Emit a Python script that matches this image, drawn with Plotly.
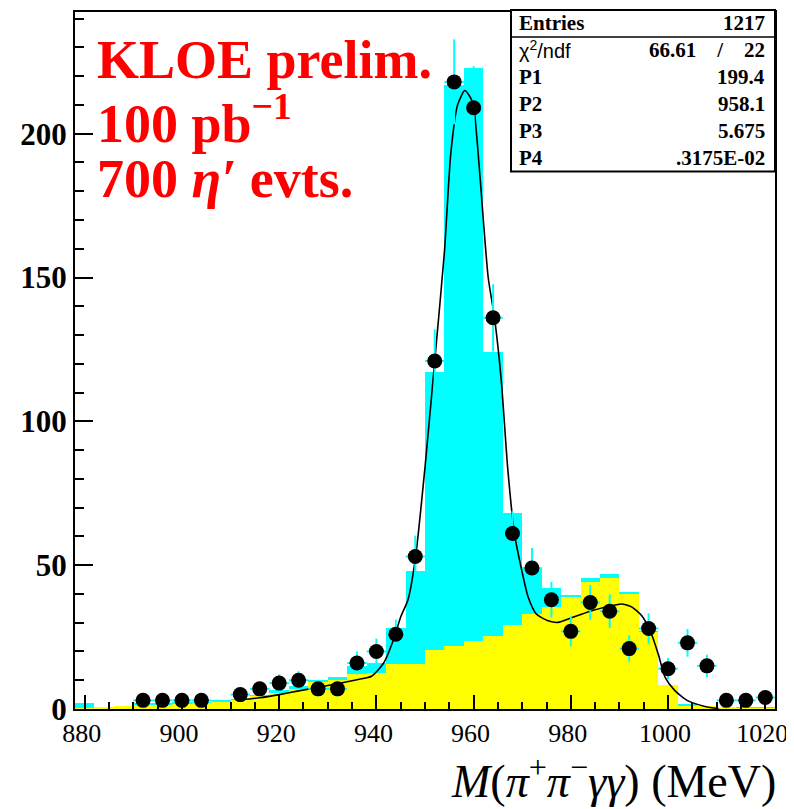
import numpy as np
import plotly.graph_objects as go

# ---- data ----
bin_centers = [880, 884, 888, 892, 896, 900, 904, 908, 912, 916, 920, 924, 928, 932,
               936, 940, 944, 948, 952, 956, 960, 964, 968, 972, 976, 980, 984, 988,
               992, 996, 1000, 1004, 1008, 1012, 1016, 1020]
mc_total = [2, 0.5, 1.2, 2, 2, 2.5, 2.5, 3.2, 3.6, 5, 6.5, 8, 10, 11,
            15, 16, 28, 48, 117, 217, 223, 124, 68, 49, 42, 39.5, 45.7, 47,
            40.8, 27, 8.5, 1.8, 1, 0.6, 0.4, 0.4]
mc_background = [0.3, 0.5, 1, 1.5, 1.5, 1.8, 2, 2.5, 3, 4.5, 5.5, 7, 9.5, 10,
                 12, 12.5, 15.8, 15.8, 20.5, 22, 23.7, 25.5, 29.2, 33, 35.3, 39, 44, 45.7,
                 40, 26.6, 8.5, 1.2, 0.9, 0.5, 0.3, 0.3]

data_x = [892, 896, 900, 904, 912, 916, 920, 924, 928, 932, 936, 940, 944, 948,
          952, 956, 960, 964, 968, 972, 976, 980, 984, 988, 992, 996, 1000, 1004,
          1008, 1012, 1016, 1020]
data_y = [3, 3, 3, 3, 5, 7, 9, 10, 7, 7, 16, 20, 26, 53,
          121, 218, 209, 136, 61, 49, 38, 27, 37, 34, 21, 28, 14, 23,
          15, 3, 3, 4]

fit_x = [912, 916, 920, 924, 928, 932, 936, 939, 941.5, 943.5, 945, 946.5, 948, 950,
         952, 954, 955.3, 956.7, 958.2, 959.8, 960.8, 962, 963, 964.3, 965.7, 967, 968.4,
         969.8, 971.2, 972.9, 975.3, 977.4, 980, 984, 988, 990.4, 992.5, 994.6, 996.6,
         998, 999.4, 1001.4, 1004, 1007.6, 1010.4]
fit_y = [3.2, 3.9, 5.0, 6.3, 7.5, 8.8, 10.2, 11.4, 16, 24, 32, 38, 52, 84,
         121, 159, 193, 210, 215, 211, 196, 170, 150, 136, 114, 84, 61,
         49, 39, 33, 30.7, 30.1, 31.6, 34, 35.7, 36.5, 35.5, 32.4, 26,
         19, 11, 6.4, 2.9, 0.9, 0.1]

x_ticks = [880, 900, 920, 940, 960, 980, 1000, 1020]
y_ticks = [0, 50, 100, 150, 200]

stats_labels = ["Entries", "χ<sup>2</sup>/ndf", "P1", "P2", "P3", "P4"]
stats_values = ["1217", "66.61    /    22", "199.4", "958.1", "5.675", ".3175E-02"]

# ---- layout geometry (pixels, in window coordinates) ----
OFF = 8                      # page body margin
WIN_W, WIN_H = 794, 809
PL, PR, PT, PB = 75, 775, 10, 709   # plot area in window pixels
W, H = WIN_W - OFF, WIN_H - OFF


def px(x):
    return (x - PL) / (PR - PL)


def py(y):
    return (PB - y) / (PB - PT)


serif = "Liberation Serif"
fig = go.Figure()

fig.add_trace(go.Bar(x=bin_centers, y=mc_total, width=4, marker=dict(color="#00FFFF", line=dict(width=0)),
                     showlegend=False))
fig.add_trace(go.Bar(x=bin_centers, y=mc_background, width=4, marker=dict(color="#FFFF00", line=dict(width=0)),
                     showlegend=False))

fig.add_trace(go.Scatter(x=fit_x, y=fit_y, mode="lines",
                         line=dict(color="black", width=1.6, shape="spline", smoothing=0.6),
                         showlegend=False))

fig.add_trace(go.Scatter(
    x=data_x, y=data_y, mode="markers",
    marker=dict(color="black", size=15, line=dict(width=0)),
    error_y=dict(type="data", array=list(np.sqrt(data_y)), color="#00FFFF", thickness=2, width=0),
    error_x=dict(type="constant", value=2, color="#00FFFF", thickness=2, width=0),
    showlegend=False))

fig.update_layout(
    width=W, height=H,
    margin=dict(l=PL - OFF, r=OFF + W - PR, t=PT - OFF, b=OFF + H - PB),
    paper_bgcolor="white", plot_bgcolor="white",
    barmode="overlay", bargap=0,
    font=dict(family=serif, color="black"),
)

fig.update_xaxes(
    range=[878, 1022], tickvals=x_ticks, ticktext=[str(v) for v in x_ticks],
    ticks="inside", ticklen=14, tickwidth=2, tickcolor="black",
    minor=dict(dtick=5, tick0=880, ticks="inside", ticklen=7, tickwidth=1.5, tickcolor="black"),
    showline=True, linecolor="black", linewidth=2, mirror=True,
    showgrid=False, zeroline=False, ticklabeloverflow="allow", ticklabelshift=-3,
    tickfont=dict(family=serif, size=26, color="black"),
)
fig.update_yaxes(
    range=[0, 242.3], tickvals=y_ticks, ticktext=[str(v) for v in y_ticks],
    ticks="inside", ticklen=18, tickwidth=2, tickcolor="black",
    minor=dict(dtick=10, tick0=0, ticks="inside", ticklen=9, tickwidth=1.5, tickcolor="black"),
    showline=True, linecolor="black", linewidth=2, mirror=True,
    showgrid=False, zeroline=False,
    tickfont=dict(family=serif, size=31, color="black", weight="bold"),
)

ann = []
# red labels
red = dict(family=serif, size=54, color="#FF0000", weight="bold")
for text, yc in [("KLOE prelim.", 58), ("100 pb<sup>−1</sup>", 118), ("700 <i>η′</i> evts.", 177)]:
    ann.append(dict(text=text, xref="paper", yref="paper", x=px(95), y=py(yc), xanchor="left",
                    yanchor="middle", showarrow=False, font=red))

# axis title
ann.append(dict(text="<i>M</i>(<i>π</i><sup>+</sup><i>π</i><sup>−</sup><i>γγ</i>) (MeV)",
                xref="paper", yref="paper", x=px(778), y=py(778), xanchor="right", yanchor="middle",
                showarrow=False, font=dict(family=serif, size=46, color="black")))

# stats box
box_l, box_r, box_t, box_b = 511, 775, 8, 170
row_y = [21, 48, 75, 102, 129, 156]
for i, (lab, val) in enumerate(zip(stats_labels, stats_values)):
    if i == 1:
        f = dict(family="Liberation Sans", size=20, color="black")
    else:
        f = dict(family=serif, size=21, color="black", weight="bold")
    ann.append(dict(text=lab, xref="paper", yref="paper", x=px(517), y=py(row_y[i]), xanchor="left",
                    yanchor="middle", showarrow=False, font=f))
    ann.append(dict(text=val, xref="paper", yref="paper", x=px(767), y=py(row_y[i]), xanchor="right",
                    yanchor="middle", showarrow=False,
                    font=dict(family=serif, size=21, color="black", weight="bold")))

shapes = [
    dict(type="rect", xref="paper", yref="paper", x0=px(box_l), x1=px(box_r), y0=py(box_b), y1=py(box_t),
         line=dict(color="black", width=2), fillcolor="white", layer="above"),
    dict(type="line", xref="paper", yref="paper", x0=px(box_l), x1=px(box_r), y0=py(35), y1=py(35),
         line=dict(color="black", width=1.5), layer="above"),
]

fig.update_layout(annotations=ann, shapes=shapes)
fig.write_html("out.html")
